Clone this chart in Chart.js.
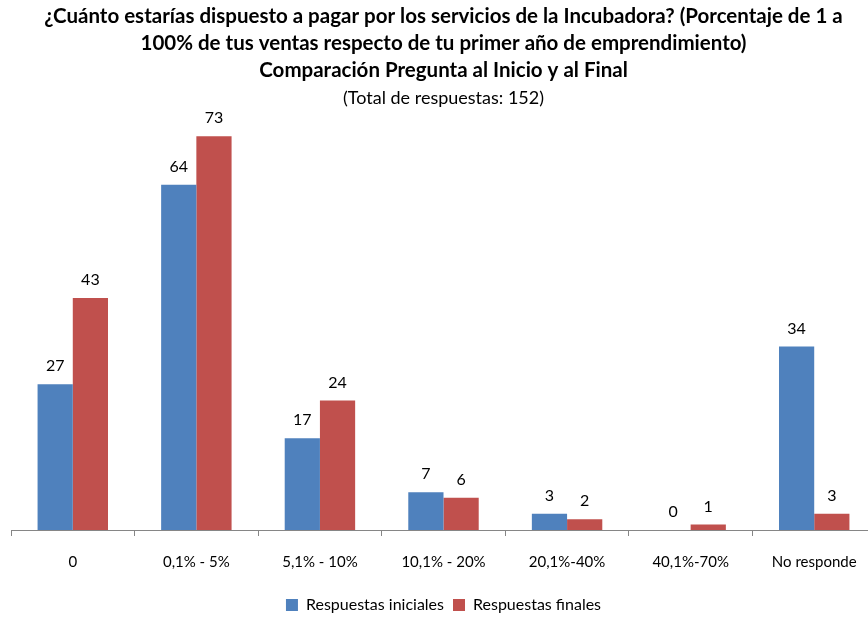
<!DOCTYPE html>
<html>
<head>
<meta charset="utf-8">
<script src="https://cdn.jsdelivr.net/npm/chart.js@4/dist/chart.umd.min.js"></script>
<style>
  html, body { margin: 0; padding: 0; background: #fff; overflow: hidden; }
  #wrap { width: 876px; height: 623px; position: relative; }
</style>
</head>
<body>
<div id="wrap"><canvas id="chart"></canvas></div>
<script>
// === Data ===
const categories = ['0', '0,1% - 5%', '5,1% - 10%', '10,1% - 20%', '20,1%-40%', '40,1%-70%', 'No responde'];
const inicialesLabel = 'Respuestas iniciales';
const finalesLabel = 'Respuestas finales';
const iniciales = [27, 64, 17, 7, 3, 0, 34];
const finales = [43, 73, 24, 6, 2, 1, 3];
const titleLines = [
    '¿Cuánto estarías dispuesto a pagar por los servicios de la Incubadora? (Porcentaje de 1 a',
    '100% de tus ventas respecto de tu primer año de emprendimiento)',
    'Comparación Pregunta al Inicio y al Final'
];
const subtitleText = '(Total de respuestas: 152)';

// Colors
const blue = '#4F81BD';
const red = '#C0504D';
const fontFamily = "Lato, 'Open Sans', sans-serif";

// Value labels above each bar
const valueLabels = {
    id: 'valueLabels',
    afterDatasetsDraw(chart) {
        const ctx = chart.ctx;
        ctx.save();
        ctx.font = '16px ' + fontFamily;
        ctx.fillStyle = '#000';
        ctx.textAlign = 'center';
        ctx.textBaseline = 'middle';
        chart.data.datasets.forEach((ds, i) => {
            chart.getDatasetMeta(i).data.forEach((bar, j) => {
                ctx.fillText(String(ds.data[j]), bar.x, bar.y - 18);
            });
        });
        ctx.restore();
    }
};

const ctx = document.getElementById('chart').getContext('2d');
const chart = new Chart(ctx, {
    type: 'bar',
    data: {
        labels: categories,
        datasets: [{
            label: inicialesLabel,
            data: iniciales,
            backgroundColor: blue,
            borderWidth: 0,
            barPercentage: 1,
            categoryPercentage: 0.57
        }, {
            label: finalesLabel,
            data: finales,
            backgroundColor: red,
            borderWidth: 0,
            barPercentage: 1,
            categoryPercentage: 0.57
        }]
    },
    options: {
        responsive: true,
        maintainAspectRatio: false,
        animation: false,
        layout: {
            padding: { left: 11, right: 0, top: 0, bottom: 0 }
        },
        plugins: {
            title: {
                display: true,
                text: titleLines,
                color: '#000',
                font: { family: fontFamily, size: 20.5, weight: 'bold', lineHeight: 1.32 },
                padding: { top: 3, bottom: 0 }
            },
            subtitle: {
                display: true,
                text: subtitleText,
                color: '#000',
                font: { family: fontFamily, size: 18, lineHeight: 1.4 },
                padding: { top: 1, bottom: 15 }
            },
            legend: {
                position: 'bottom',
                labels: {
                    color: '#000',
                    font: { family: fontFamily, size: 16 },
                    boxWidth: 12,
                    boxHeight: 12,
                    padding: 9
                }
            },
            tooltip: { enabled: false }
        },
        scales: {
            x: {
                grid: {
                    display: true,
                    drawOnChartArea: false,
                    offset: true,
                    color: '#868686',
                    tickLength: 6
                },
                border: { color: '#868686', width: 1 },
                ticks: {
                    color: '#000',
                    font: { family: fontFamily, size: 15 },
                    padding: 17,
                    maxRotation: 0,
                    autoSkip: false
                }
            },
            y: {
                display: false,
                min: 0,
                max: 75
            }
        }
    },
    plugins: [valueLabels]
});
</script>
</body>
</html>
